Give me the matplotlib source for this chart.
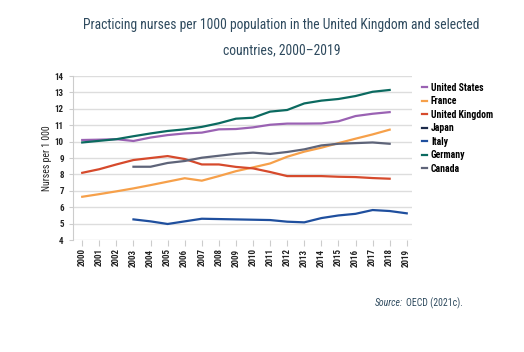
import numpy as np
import matplotlib.pyplot as plt
from matplotlib.lines import Line2D

plt.rcParams['font.family'] = ['Roboto Condensed', 'Archivo Narrow', 'DejaVu Sans']

years = list(range(2000, 2020))
nan = np.nan

united_states = [10.1, 10.12, 10.15, 10.04, 10.25, 10.4, 10.5, 10.55, 10.75, 10.77,
                 10.87, 11.03, 11.1, 11.1, 11.11, 11.24, 11.56, 11.7, 11.8, nan]
france = [6.64, 6.8, 6.97, 7.15, 7.35, 7.56, 7.77, 7.62, 7.9, 8.2,
          8.43, 8.67, 9.08, 9.39, 9.63, 9.91, 10.18, 10.44, 10.73, nan]
united_kingdom = [8.1, 8.32, 8.61, 8.88, 9.0, 9.12, 8.94, 8.61, 8.61, 8.46,
                  8.37, 8.15, 7.9, 7.9, 7.9, 7.86, 7.84, 7.78, 7.74, nan]
japan = [nan] * 20
italy = [nan, nan, nan, 5.26, 5.14, 4.98, 5.14, 5.3, 5.28, 5.26,
         5.24, 5.22, 5.12, 5.08, 5.34, 5.5, 5.6, 5.83, 5.77, 5.63]
germany = [9.95, 10.05, 10.15, 10.33, 10.5, 10.65, 10.75, 10.9, 11.12, 11.4,
           11.46, 11.83, 11.93, 12.33, 12.5, 12.6, 12.78, 13.04, 13.15, nan]
canada = [nan, nan, nan, 8.47, 8.47, 8.7, 8.82, 9.02, 9.14, 9.26,
          9.33, 9.25, 9.37, 9.53, 9.77, 9.87, 9.91, 9.95, 9.87, nan]

series = [
    ('United States', united_states, '#9a62b3'),
    ('France', france, '#f6a04a'),
    ('United Kingdom', united_kingdom, '#d64a2c'),
    ('Japan', japan, '#1c2b4a'),
    ('Italy', italy, '#1f4f9e'),
    ('Germany', germany, '#0b6a60'),
    ('Canada', canada, '#5e6479'),
]

fig = plt.figure(figsize=(5.24, 3.52), dpi=100)
ax = fig.add_axes([0.139, 0.318, 0.647, 0.466])

for name, vals, col in series:
    ax.plot(years, vals, color=col, lw=1.6, label=name)

ax.set_xlim(1999.45, 2019.3)
ax.set_ylim(4, 14)
ax.set_yticks(range(4, 15))
ax.set_xticks(years)
ax.set_xticklabels([str(y) for y in years], rotation=90, fontsize=6.5, fontweight='bold', color='#222222')
ax.tick_params(axis='y', labelsize=6.5, length=3, color='#cccccc', labelcolor='#222222')
for lab in ax.get_yticklabels():
    lab.set_fontweight('bold')
ax.tick_params(axis='x', length=4, color='#cccccc', pad=2)
ax.grid(axis='y', color='#dddddd', lw=1)
ax.set_axisbelow(True)
for s in ['top', 'right', 'bottom']:
    ax.spines[s].set_visible(False)
ax.spines['left'].set_color('#cccccc')
ax.set_ylabel('Nurses per 1 000', fontsize=7, color='#222222', labelpad=2)

handles = [Line2D([0], [0], color=c, lw=1.6) for _, _, c in series]
fig.legend(handles, [n for n, _, _ in series], loc='upper left',
           bbox_to_anchor=(0.788, 0.79), frameon=False,
           prop={'weight': 'semibold', 'size': 7},
           handlelength=0.6, handletextpad=0.35, labelspacing=0.36)

fig.text(0.537, 0.93, 'Practicing nurses per 1000 population in the United Kingdom and selected',
         ha='center', va='center', fontsize=9.8, color='#2e4a5e')
fig.text(0.537, 0.857, 'countries, 2000\u20132019',
         ha='center', va='center', fontsize=9.8, color='#2e4a5e')

src = fig.text(0.716, 0.138, 'Source:', ha='left', va='center', fontsize=7,
               style='italic', color='#2e4a5e')
fig.canvas.draw()
bb = src.get_window_extent().transformed(fig.transFigure.inverted())
fig.text(bb.x1 + 0.006, 0.138, 'OECD (2021c).', ha='left', va='center', fontsize=7,
         color='#2e4a5e')

fig.savefig('out.png', dpi=100)
